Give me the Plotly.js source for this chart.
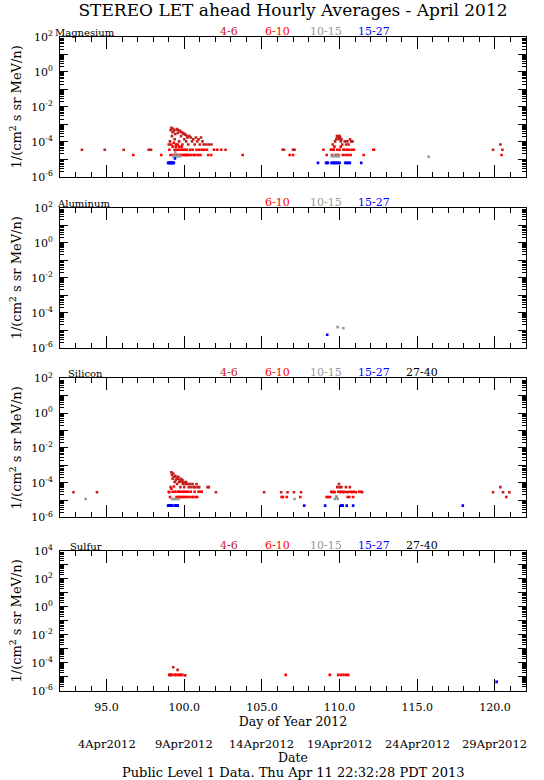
<!DOCTYPE html>
<html><head><meta charset="utf-8">
<script src="https://cdn.plot.ly/plotly-3.0.1.min.js"></script>
<style>html,body{margin:0;padding:0;background:#fff}#chart{width:544px;height:780px}</style>
</head><body><div id="chart"></div>
<script>
// ---------------- DATA ----------------
const titleText = 'STEREO LET ahead Hourly Averages - April 2012';
const elements = ['Magnesium', 'Aluminum', 'Silicon', 'Sulfur'];
const channelNames = ['4-6', '6-10', '10-15', '15-27', '27-40'];
const channelsShown = [[0, 1, 2, 3], [1, 2, 3], [0, 1, 2, 3, 4], [0, 1, 2, 3, 4]];
const doyTicks = [95, 100, 105, 110, 115, 120];
const doyTickLabels = ['95.0', '100.0', '105.0', '110.0', '115.0', '120.0'];
const dateTickLabels = ['4Apr2012', '9Apr2012', '14Apr2012', '19Apr2012', '24Apr2012', '29Apr2012'];
const footerText = 'Public Level 1 Data. Thu Apr 11 22:32:28 PDT 2013';
const yUnitTitle = '1/(cm<sup>2</sup> s sr MeV/n)';

// Magnesium
const mg_d46 = [93.41, 94.88, 96.10, 97.71, 97.86, 99.00, 99.08, 99.12, 99.17, 99.21, 99.25, 99.29, 99.33, 99.38, 99.42, 99.46, 99.50, 99.54, 99.58, 99.62, 99.67, 99.71, 99.75, 99.79, 99.83, 99.88, 99.92, 99.96, 100.00, 100.04, 100.08, 100.12, 100.17, 100.21, 100.25, 100.33, 100.42, 100.50, 100.58, 100.67, 100.75, 100.83, 100.92, 101.00, 101.08, 101.17, 101.25, 101.42, 101.58, 101.75, 102.66, 106.34, 106.42, 107.00, 107.10, 108.96, 109.48, 109.56, 109.63, 109.71, 109.79, 109.83, 109.88, 109.92, 109.96, 110.00, 110.04, 110.08, 110.12, 110.17, 110.25, 110.33, 110.42, 110.50, 110.58, 110.67, 110.75, 110.83, 112.22, 119.88, 120.35, 120.48];
const mg_v46 = [3.5e-5, 3.5e-5, 3.5e-5, 3.5e-5, 3.5e-5, 7.0e-5, 1.05e-4, 4.6e-4, 6.3e-4, 2.1e-4, 3.5e-4, 5.6e-4, 4.2e-4, 1.4e-4, 2.8e-4, 7.0e-5, 4.9e-4, 5.3e-4, 3.2e-4, 4.6e-4, 1.05e-4, 4.2e-4, 3.9e-4, 2.1e-4, 3.5e-4, 7.0e-5, 3.2e-4, 2.8e-4, 1.4e-4, 2.8e-4, 2.5e-4, 1.05e-4, 2.1e-4, 1.75e-4, 7.0e-5, 2.1e-4, 1.75e-4, 1.05e-4, 1.4e-4, 7.0e-5, 1.75e-4, 1.05e-4, 1.4e-4, 7.0e-5, 1.75e-4, 1.05e-4, 7.0e-5, 7.0e-5, 7.0e-5, 7.0e-5, 3.5e-5, 3.5e-5, 3.5e-5, 3.5e-5, 3.5e-5, 3.5e-5, 3.5e-5, 7.0e-5, 3.5e-5, 1.05e-4, 1.4e-4, 2.1e-4, 1.75e-4, 2.1e-4, 1.4e-4, 2.1e-4, 1.75e-4, 1.05e-4, 1.4e-4, 7.0e-5, 3.5e-5, 1.05e-4, 7.0e-5, 1.05e-4, 7.0e-5, 1.4e-4, 1.05e-4, 1.05e-4, 3.5e-5, 3.5e-5, 7.0e-5, 3.5e-5];
const mg_d610 = [96.72, 98.52, 99.04, 99.12, 99.17, 99.25, 99.29, 99.33, 99.38, 99.42, 99.46, 99.50, 99.54, 99.58, 99.62, 99.67, 99.71, 99.75, 99.79, 99.83, 99.88, 99.92, 99.96, 100.00, 100.04, 100.08, 100.12, 100.17, 100.21, 100.29, 100.38, 100.46, 100.54, 100.62, 100.71, 100.79, 100.88, 100.96, 101.04, 101.12, 101.29, 101.46, 101.54, 101.73, 101.92, 102.12, 102.38, 103.76, 106.79, 107.00, 109.17, 109.44, 109.52, 109.60, 109.67, 109.75, 109.85, 109.92, 110.00, 110.08, 110.21, 110.29, 110.38, 110.46, 110.54, 110.62, 110.71, 110.79, 110.92, 111.55, 112.17, 120.43];
const mg_v610 = [1.75e-5, 1.75e-5, 3.5e-5, 1.75e-5, 7.0e-5, 5.3e-5, 1.75e-5, 8.8e-5, 3.5e-5, 1.75e-5, 5.3e-5, 3.5e-5, 1.75e-5, 7.0e-5, 3.5e-5, 5.3e-5, 1.75e-5, 3.5e-5, 1.75e-5, 5.3e-5, 3.5e-5, 1.75e-5, 3.5e-5, 1.75e-5, 3.5e-5, 1.75e-5, 1.75e-5, 3.5e-5, 1.75e-5, 1.75e-5, 3.5e-5, 1.75e-5, 3.5e-5, 1.75e-5, 1.75e-5, 3.5e-5, 1.75e-5, 3.5e-5, 1.75e-5, 3.5e-5, 3.5e-5, 3.5e-5, 1.75e-5, 1.75e-5, 3.5e-5, 3.5e-5, 3.5e-5, 1.75e-5, 1.75e-5, 1.75e-5, 1.75e-5, 3.5e-5, 1.75e-5, 3.5e-5, 5.3e-5, 1.75e-5, 3.5e-5, 1.75e-5, 3.5e-5, 5.3e-5, 1.75e-5, 3.5e-5, 1.75e-5, 3.5e-5, 1.75e-5, 3.5e-5, 1.75e-5, 3.5e-5, 3.5e-5, 1.75e-5, 3.5e-5, 1.75e-5];
const mg_d1015 = [99.29, 99.38, 99.42, 99.46, 99.54, 99.63, 99.75, 109.50, 109.60, 109.73, 109.85, 109.96, 115.73];
const mg_v1015 = [1.5e-5, 1.5e-5, 2.6e-5, 1.5e-5, 1.5e-5, 1.5e-5, 1.5e-5, 1.5e-5, 1.5e-5, 1.5e-5, 1.5e-5, 1.5e-5, 1.4e-5];
const mg_d1527 = [98.96, 99.00, 99.04, 99.08, 99.12, 99.17, 99.21, 99.25, 99.29, 99.33, 99.40, 108.61, 109.13, 109.19, 109.25, 109.48, 109.54, 109.60, 109.67, 109.75, 109.83, 109.92, 110.00, 110.37, 110.46, 110.56, 110.66, 111.39];
const mg_v1527 = [6.2e-6, 6.2e-6, 6.2e-6, 6.2e-6, 6.2e-6, 6.2e-6, 6.2e-6, 6.2e-6, 6.2e-6, 6.2e-6, 1.1e-5, 6.2e-6, 6.2e-6, 6.2e-6, 6.2e-6, 6.2e-6, 6.2e-6, 6.2e-6, 6.2e-6, 6.2e-6, 6.2e-6, 6.2e-6, 6.2e-6, 6.2e-6, 6.2e-6, 6.2e-6, 6.2e-6, 6.2e-6];

// Aluminum
const al_d1015 = [109.87, 110.24];
const al_v1015 = [1.5e-5, 1.3e-5];
const al_d1527 = [109.20];
const al_v1527 = [5.5e-6];

// Silicon
const si_d46 = [92.87, 94.38, 99.04, 99.12, 99.17, 99.21, 99.25, 99.29, 99.33, 99.38, 99.42, 99.46, 99.50, 99.54, 99.58, 99.62, 99.67, 99.71, 99.75, 99.79, 99.83, 99.88, 99.92, 99.96, 100.00, 100.08, 100.12, 100.21, 100.29, 100.38, 100.46, 100.54, 100.62, 100.71, 100.79, 100.88, 100.96, 101.50, 101.58, 102.04, 105.14, 106.24, 106.65, 107.06, 107.52, 109.54, 109.69, 109.85, 109.96, 110.00, 110.04, 110.12, 110.25, 110.41, 110.50, 110.66, 110.79, 111.04, 111.45, 119.88, 120.35, 120.52, 120.93];
const si_v46 = [2.8e-5, 2.8e-5, 2.8e-5, 5.6e-5, 3.9e-4, 2.8e-4, 1.7e-4, 3.4e-4, 2.2e-4, 1.1e-4, 2.5e-4, 1.4e-4, 2.0e-4, 8.4e-5, 1.7e-4, 2.2e-4, 1.1e-4, 1.4e-4, 5.6e-5, 1.7e-4, 1.1e-4, 1.4e-4, 8.4e-5, 1.1e-4, 5.6e-5, 8.4e-5, 1.1e-4, 8.4e-5, 5.6e-5, 8.4e-5, 5.6e-5, 8.4e-5, 5.6e-5, 5.6e-5, 8.4e-5, 5.6e-5, 5.6e-5, 5.6e-5, 5.6e-5, 2.8e-5, 2.8e-5, 2.8e-5, 2.8e-5, 2.8e-5, 2.8e-5, 2.8e-5, 2.8e-5, 5.6e-5, 8.4e-5, 5.6e-5, 2.8e-5, 5.6e-5, 2.8e-5, 5.6e-5, 2.8e-5, 5.6e-5, 2.8e-5, 2.8e-5, 2.8e-5, 2.8e-5, 5.6e-5, 2.8e-5, 2.8e-5];
const si_d610 = [99.00, 99.08, 99.17, 99.25, 99.33, 99.42, 99.50, 99.58, 99.62, 99.67, 99.71, 99.75, 99.83, 99.88, 99.92, 100.00, 100.04, 100.12, 100.17, 100.25, 100.33, 100.42, 100.50, 100.58, 100.67, 100.75, 100.83, 100.92, 101.04, 101.12, 106.27, 106.35, 106.60, 107.47, 109.17, 109.27, 109.38, 109.46, 109.62, 109.79, 109.92, 110.08, 110.17, 110.33, 110.52, 110.58, 110.62, 110.75, 110.87, 110.93, 111.25, 111.40, 120.73];
const si_v610 = [3.0e-5, 1.5e-5, 4.5e-5, 3.0e-5, 6.0e-5, 3.0e-5, 1.5e-5, 3.0e-5, 1.5e-5, 3.0e-5, 1.5e-5, 3.0e-5, 1.5e-5, 3.0e-5, 1.5e-5, 3.0e-5, 1.5e-5, 3.0e-5, 1.5e-5, 3.0e-5, 1.5e-5, 3.0e-5, 1.5e-5, 1.5e-5, 3.0e-5, 1.5e-5, 1.5e-5, 3.0e-5, 3.0e-5, 3.0e-5, 1.5e-5, 1.5e-5, 1.5e-5, 1.5e-5, 1.5e-5, 1.5e-5, 1.5e-5, 3.0e-5, 3.0e-5, 1.5e-5, 3.0e-5, 3.0e-5, 3.0e-5, 3.0e-5, 1.5e-5, 3.0e-5, 1.5e-5, 3.0e-5, 1.5e-5, 3.0e-5, 3.0e-5, 3.0e-5, 1.5e-5];
const si_d1015 = [93.65, 99.21, 99.29, 99.38, 99.50, 99.63, 107.10, 109.69, 109.79, 109.88];
const si_v1015 = [1.15e-5, 1.15e-5, 1.15e-5, 1.15e-5, 1.15e-5, 1.15e-5, 1.15e-5, 1.15e-5, 1.6e-5, 1.15e-5];
const si_d1527 = [98.96, 99.00, 99.04, 99.08, 99.12, 99.17, 99.21, 99.38, 99.42, 99.46, 99.50, 99.54, 99.58, 107.72, 109.07, 110.10, 110.15, 110.20, 110.46, 110.87, 117.93];
const si_v1527 = [4.8e-6, 4.8e-6, 4.8e-6, 4.8e-6, 4.8e-6, 4.8e-6, 4.8e-6, 4.8e-6, 4.8e-6, 4.8e-6, 4.8e-6, 4.8e-6, 4.8e-6, 4.8e-6, 4.8e-6, 4.8e-6, 4.8e-6, 4.8e-6, 4.8e-6, 4.8e-6, 4.8e-6];

// Sulfur
const s_d46 = [99.03, 99.12, 99.29, 99.38, 99.57, 99.71, 99.88, 100.06];
const s_v46 = [1.4e-5, 1.4e-5, 4.9e-5, 1.4e-5, 3.2e-5, 1.4e-5, 1.4e-5, 1.3e-5];
const s_d610 = [99.08, 99.21, 99.46, 99.62, 99.79, 106.53, 109.37, 109.91, 110.08, 110.25, 110.42, 110.56];
const s_v610 = [1.4e-5, 1.4e-5, 1.4e-5, 1.4e-5, 1.4e-5, 1.4e-5, 1.4e-5, 1.4e-5, 1.4e-5, 1.4e-5, 1.4e-5, 1.4e-5];
const s_d1527 = [120.11];
const s_v1527 = [4.5e-6];

// ---------------- STYLE / LAYOUT ----------------
const channelColors = ['#c41e1e', '#ff0000', '#999999', '#0000ff', '#000000'];
const FONT = 'DejaVu Serif, Liberation Serif, serif';
const ML = 60, MR = 18, PW = 544 - ML - MR;

const series = [
  [[mg_d46, mg_v46, 0], [mg_d610, mg_v610, 1], [mg_d1015, mg_v1015, 2], [mg_d1527, mg_v1527, 3]],
  [[al_d1015, al_v1015, 2], [al_d1527, al_v1527, 3]],
  [[si_d46, si_v46, 0], [si_d610, si_v610, 1], [si_d1015, si_v1015, 2], [si_d1527, si_v1527, 3]],
  [[s_d46, s_v46, 0], [s_d610, s_v610, 1], [s_d1527, s_v1527, 3]]
];

const traces = [];
series.forEach((list, p) => {
  const sfx = p === 0 ? '' : String(p + 1);
  list.forEach(([d, v, c]) => {
    traces.push({
      type: 'scatter', mode: 'markers', x: d, y: v,
      xaxis: 'x' + sfx, yaxis: 'y' + sfx,
      marker: {symbol: 'square', size: 2.6, color: channelColors[c], line: {width: 0}},
      hoverinfo: 'skip'
    });
  });
});

const domains = [[0.7864, 1], [0.5249, 0.7390], [0.2653, 0.4781], [0, 0.2145]];
const yRanges = [[-6, 2], [-6, 2], [-6, 2], [-6, 4]];

function logTicks(lo, hi) {
  const vals = [], text = [], minor = [];
  for (let k = lo; k <= hi; k++) {
    vals.push(Math.pow(10, k));
    text.push(((k - lo) % 2 === 0) ? '10<sup>' + k + '</sup>' : '');
    if (k < hi) for (let m = 2; m <= 9; m++) minor.push(m * Math.pow(10, k));
  }
  return {vals, text, minor};
}

const layout = {
  width: 544, height: 780,
  margin: {l: ML, r: MR, t: 37, b: 89},
  paper_bgcolor: '#fff', plot_bgcolor: '#fff',
  showlegend: false, hovermode: false,
  font: {family: FONT, size: 11, color: '#000'},
  title: {text: titleText, font: {family: FONT, size: 17, color: '#000'},
          xref: 'paper', x: 0.5, xanchor: 'center', yref: 'container', y: 0.987, yanchor: 'middle'},
  annotations: []
};

const channelPx = [229, 277.5, 325.8, 374, 422];
const labelLeftPx = [53, 55, 66, 68];

for (let p = 0; p < 4; p++) {
  const sfx = p === 0 ? '' : String(p + 1);
  const t = logTicks(yRanges[p][0], yRanges[p][1]);
  layout['xaxis' + sfx] = {
    domain: [0, 1], anchor: 'y' + sfx, range: [92, 122], type: 'linear',
    showline: true, linecolor: '#000', linewidth: 1, mirror: 'ticks',
    ticks: 'inside', ticklen: 12, tickwidth: 1, tickcolor: '#000',
    tickmode: 'array', tickvals: doyTicks, ticktext: doyTickLabels,
    showticklabels: p === 3, ticklabelstandoff: 6,
    tickfont: {family: FONT, size: 11},
    minor: {ticks: 'inside', ticklen: 5, tickwidth: 1, tickcolor: '#000', dtick: 1, tick0: 92, showgrid: false},
    showgrid: false, zeroline: false, fixedrange: true
  };
  if (p === 3) layout['xaxis' + sfx].title = {text: 'Day of Year 2012', font: {family: FONT, size: 12.5}, standoff: 3};
  layout['yaxis' + sfx] = {
    domain: domains[p], anchor: 'x' + sfx, type: 'log', range: yRanges[p],
    showline: true, linecolor: '#000', linewidth: 1, mirror: 'ticks',
    ticks: 'inside', ticklen: 8, tickwidth: 1, tickcolor: '#000',
    tickmode: 'array', tickvals: t.vals, ticktext: t.text,
    ticklabelstandoff: 4,
    tickfont: {family: FONT, size: 11},
    minor: {ticks: 'inside', ticklen: 4, tickwidth: 1, tickcolor: '#000', tickmode: 'array', tickvals: t.minor, showgrid: false},
    showgrid: false, zeroline: false, fixedrange: true,
    title: {text: yUnitTitle, font: {family: FONT, size: 13}, standoff: 6}
  };
  layout.annotations.push({
    xref: 'paper', yref: 'paper', x: (labelLeftPx[p] - ML) / PW, y: domains[p][1], xanchor: 'left', yanchor: 'bottom',
    text: elements[p], showarrow: false, font: {family: FONT, size: 10, color: '#000'}, yshift: -3
  });
  channelsShown[p].forEach(c => {
    layout.annotations.push({
      xref: 'paper', yref: 'paper', x: (channelPx[c] - ML) / PW, y: domains[p][1], xanchor: 'center', yanchor: 'bottom',
      text: channelNames[c], showarrow: false, font: {family: FONT, size: 11, color: channelColors[c]}, yshift: -3
    });
  });
}

doyTicks.forEach((d, i) => {
  layout.annotations.push({
    xref: 'x4', yref: 'paper', x: d, y: (691 - 744) / 654, xanchor: 'center', yanchor: 'middle',
    text: dateTickLabels[i], showarrow: false, font: {family: FONT, size: 11.5}
  });
});
layout.annotations.push({xref: 'paper', yref: 'paper', x: 0.5, y: (691 - 757) / 654, xanchor: 'center', yanchor: 'middle',
  text: 'Date', showarrow: false, font: {family: FONT, size: 12.5}});
layout.annotations.push({xref: 'paper', yref: 'paper', x: 0.5, y: (691 - 772) / 654, xanchor: 'center', yanchor: 'middle',
  text: footerText, showarrow: false, font: {family: FONT, size: 13}});

Plotly.newPlot('chart', traces, layout, {staticPlot: true, displayModeBar: false});
</script></body></html>
